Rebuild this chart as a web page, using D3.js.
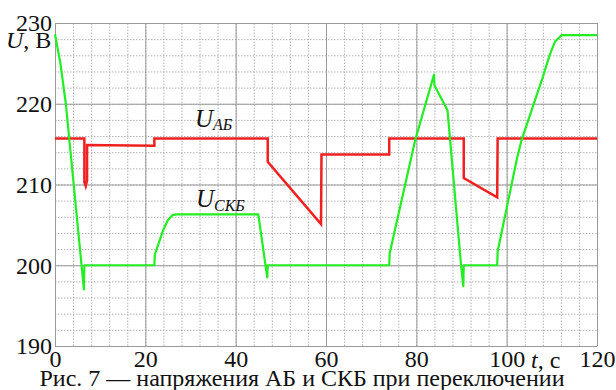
<!DOCTYPE html>
<html>
<head>
<meta charset="utf-8">
<script src="https://cdn.jsdelivr.net/npm/d3@7"></script>
<style>
    body { margin: 0; background: #fff; }
    .grid-major line { stroke: #9a9a9a; stroke-width: 1; }
    .grid-minor line { stroke: #b4b4b4; stroke-width: 1; stroke-dasharray: 1.5, 1.5; }
    .grid-major path, .grid-minor path, .ax path { display: none; }
</style>
</head>
<body>
<svg id="chart" width="616" height="390"></svg>
<script>
// axis ticks
let xTicks = [0, 20, 40, 60, 80, 100, 120];
let yTicks = [190, 200, 210, 220, 230];
let xMinor = d3.range(0, 121, 4);
let yMinor = d3.range(190, 231, 2);

// U_AB (red) : time, voltage
let tAB = [0, 6.5, 6.5, 6.8, 7.1, 7.1, 22, 22, 47.1, 47.1, 58.9, 59.0, 74, 74, 90.5, 90.5, 97.9, 98, 120];
let uAB = [215.7, 215.7, 210.3, 209.8, 210.5, 214.9, 214.8, 215.7, 215.7, 212.8, 205.1, 213.7, 213.7, 215.7, 215.7, 210.8, 208.4, 215.7, 215.7];

// U_SKB (green) : time, voltage
let tSKB = [0, 1.2, 2.4, 4.4, 6.4, 6.5, 22, 22.1, 23, 24, 25, 26, 26.8, 45, 45.6, 46.5, 47.0, 47.1,
    74, 74.1, 79.7, 83.9, 84, 86.9, 89.9, 90.4, 90.5, 97.9, 98, 102.2, 103.3, 108, 109.5, 110.7, 112.2, 120];
let uSKB = [228.6, 225, 220, 208.5, 197, 200, 200, 201.3, 202.8, 204.4, 205.6, 206.2, 206.3, 206.3, 204, 200.4, 198.5, 200,
    200, 201.5, 215.4, 223.6, 222.3, 219.2, 200, 197.4, 200, 200, 201.7, 213, 215.5, 223.3, 226, 227.7, 228.5, 228.5];

const FONT = "'Liberation Serif'";

let svg = d3.select("#chart");
let x = d3.scaleLinear().domain([0, 120]).range([55, 597]);
let y = d3.scaleLinear().domain([190, 230]).range([346, 23]);
let w = 597 - 55, h = 346 - 23;

// grid
svg.append("g").attr("class", "grid-minor").attr("transform", "translate(0,346)")
    .call(d3.axisBottom(x).tickValues(xMinor).tickSize(-h).tickFormat(""));
svg.append("g").attr("class", "grid-minor").attr("transform", "translate(55,0)")
    .call(d3.axisLeft(y).tickValues(yMinor).tickSize(-w).tickFormat(""));
svg.append("g").attr("class", "grid-major").attr("transform", "translate(0,346)")
    .call(d3.axisBottom(x).tickValues(xTicks).tickSize(-h).tickFormat(""));
svg.append("g").attr("class", "grid-major").attr("transform", "translate(55,0)")
    .call(d3.axisLeft(y).tickValues(yTicks).tickSize(-w).tickFormat(""));

// tick labels
let ax = svg.append("g").attr("class", "ax").attr("transform", "translate(0,346)")
    .call(d3.axisBottom(x).tickValues(xTicks).tickSize(0).tickPadding(6).tickFormat(d3.format("d")));
ax.selectAll("text").attr("dy", "0.62em");
let ay = svg.append("g").attr("class", "ax").attr("transform", "translate(55,0)")
    .call(d3.axisLeft(y).tickValues(yTicks).tickSize(0).tickPadding(3).tickFormat(d3.format("d")));
ay.selectAll("text").attr("dy", "0.33em");
svg.selectAll(".ax").attr("font-family", FONT).attr("font-size", null);
svg.selectAll(".ax text").attr("fill", "#111").style("font-size", "24px");

// curves
let line = d3.line().x(d => x(d[0])).y(d => y(d[1]));
svg.append("path").datum(d3.zip(tAB, uAB)).attr("d", line)
    .attr("fill", "none").attr("stroke", "#f02020").attr("stroke-width", 2.5)
    .attr("stroke-linejoin", "miter");
svg.append("path").datum(d3.zip(tSKB, uSKB)).attr("d", line)
    .attr("fill", "none").attr("stroke", "#22ee22").attr("stroke-width", 2.2)
    .attr("stroke-linejoin", "round");

// axis titles
let ut = svg.append("text").attr("x", 6).attr("y", 48).style("font-size", "24px");
ut.append("tspan").attr("font-style", "italic").text("U");
ut.append("tspan").text(", В");

let tt = svg.append("text").attr("x", 531).attr("y", 368).style("font-size", "24px");
tt.append("tspan").attr("font-style", "italic").text("t");
tt.append("tspan").text(", с");

// curve labels
let lab = svg.append("text").attr("x", 195).attr("y", 127).style("font-size", "25px").attr("font-style", "italic");
lab.append("tspan").text("U");
lab.append("tspan").attr("dy", 3).style("font-size", "16px").text("АБ");

let lab2 = svg.append("text").attr("x", 196).attr("y", 207).style("font-size", "25px").attr("font-style", "italic");
lab2.append("tspan").text("U");
lab2.append("tspan").attr("dy", 4).style("font-size", "16px").text("СКБ");

// caption
svg.append("text").attr("x", 302).attr("y", 386).attr("text-anchor", "middle")
    .style("font-size", "24px")
    .text("Рис. 7 — напряжения АБ и СКБ при переключении");

svg.selectAll("text").style("font-family", FONT).style("fill", "#111");
</script>
</body>
</html>
